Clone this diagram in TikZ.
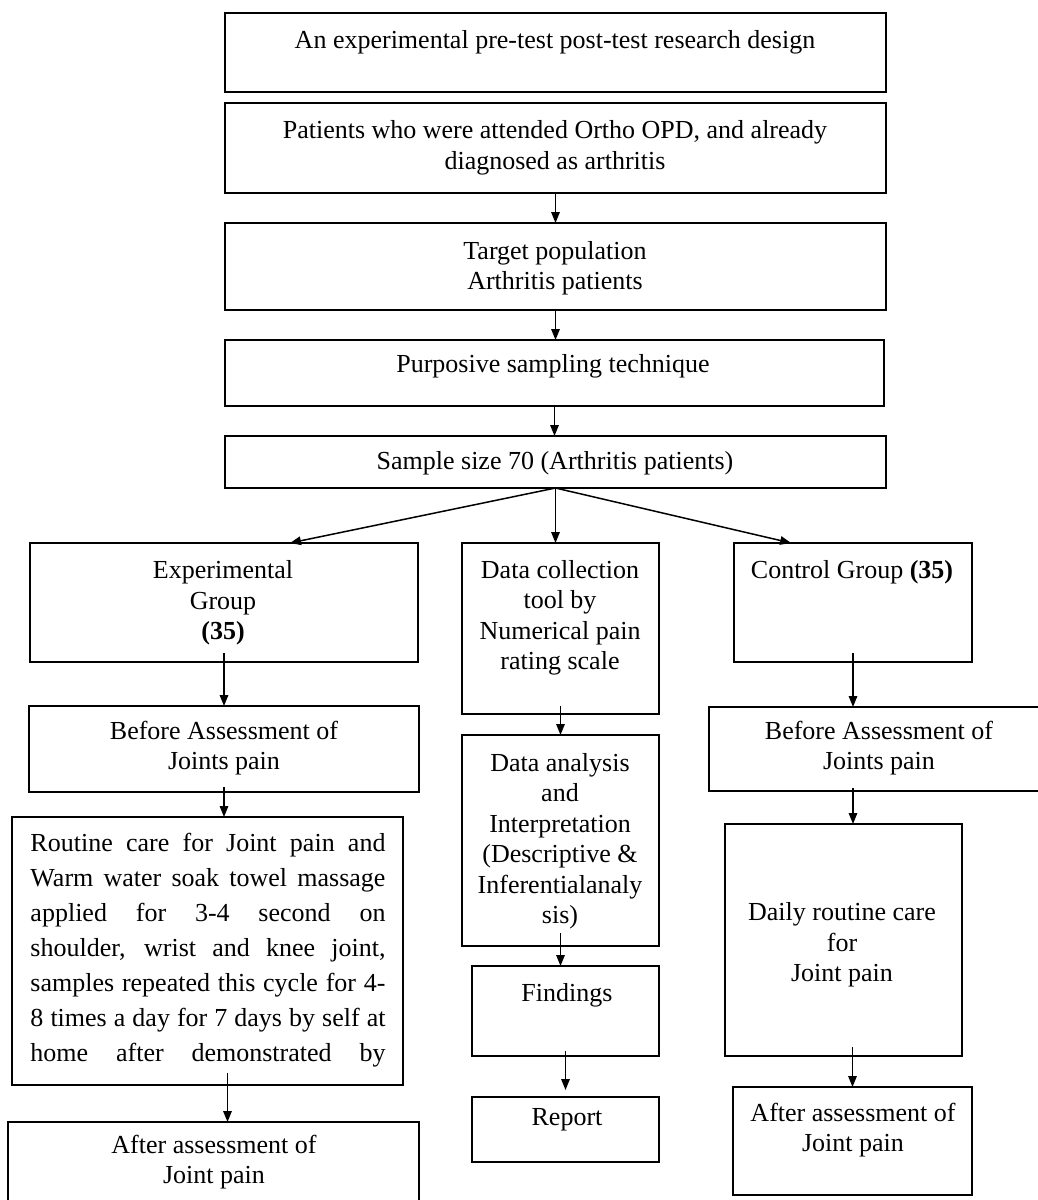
\documentclass[tikz,border=0pt]{standalone}
\usepackage{fontspec}
\setmainfont{Liberation Serif}
\usetikzlibrary{arrows.meta,calc}
\tikzset{
 box/.style={draw=black, line width=1.4pt, rectangle, inner sep=0pt, outer sep=0pt},
 txt/.style={align=center, inner sep=0pt, font=\fontsize{26}{30.5}\selectfont},
 arr/.style={draw=black, line width=1.5pt, -{Triangle[length=11pt,width=8.5pt]}},
}
\newcommand{\bx}[5]{\node[box, minimum width={(#4)-(#2)}, minimum height={(#5)-(#3)}] (#1) at ({((#2)+(#4))/2},{((#3)+(#5))/2}) {};}
\begin{document}
\begin{tikzpicture}[x=1pt,y=-1pt]
\useasboundingbox (0,0) rectangle (1038,1200);
% boxes
\bx{b1}{225}{13}{886}{92}
\bx{b2}{225}{103}{886}{193}
\bx{b3}{225}{223}{886}{310}
\bx{b4}{225}{340}{884}{406}
\bx{b5}{225}{436}{886}{488}
\bx{exp}{30}{543}{418}{662}
\bx{data}{462}{543}{659}{714}
\bx{ctrl}{734}{543}{972}{662}
\bx{bal}{29}{706}{419}{792}
\bx{rout}{12}{817}{403}{1085}
\bx{aal}{8}{1122}{419}{1215}
\bx{dana}{462}{735}{659}{946}
\bx{find}{472}{966}{659}{1056}
\bx{rep}{472}{1097}{659}{1162}
\bx{bar}{709}{707}{1050}{791}
\bx{daily}{725}{824}{962}{1056}
\bx{aar}{733}{1087}{972}{1195}
% texts
\node[txt] (t1) at (555,42) {An experimental pre-test post-test research design};
\node[txt] (t2) at (555,148) {Patients who were attended Ortho OPD, and already\\diagnosed as arthritis};
\node[txt] (t3) at (555,268) {Target population\\Arthritis patients};
\node[txt] (t4) at (553,366) {Purposive sampling technique};
\node[txt] (t5) at (555,463) {Sample size 70 (Arthritis patients)};
\node[txt] (t6) at (223,603) {Experimental\\Group\\\textbf{(35)}};
\node[txt] (t7) at (560,618) {Data collection\\tool by\\Numerical pain\\rating scale};
\node[txt] (t8) at (852,572) {Control Group \textbf{(35)}};
\node[txt] (t9) at (224,748) {Before Assessment of\\Joints pain};
\node[txt, align=left, font=\fontsize{26}{35}\selectfont] (t10) at (208,950) {%
\makebox[355pt][s]{Routine care for Joint pain and}\\
\makebox[355pt][s]{Warm water soak towel massage}\\
\makebox[355pt][s]{applied for 3-4 second on}\\
\makebox[355pt][s]{shoulder, wrist and knee joint,}\\
\makebox[355pt][s]{samples repeated this cycle for 4-}\\
\makebox[355pt][s]{8 times a day for 7 days by self at}\\
\makebox[355pt][s]{home after demonstrated by}};
\node[txt] (t11) at (214,1162) {After assessment of\\Joint pain};
\node[txt] (t12) at (560,841) {Data analysis\\and\\Interpretation\\(Descriptive \&\\Inferentialanaly\\sis)};
\node[txt] (t13) at (567,995) {Findings};
\node[txt] (t14) at (567,1120) {Report};
\node[txt] (t15) at (879,748) {Before Assessment of\\Joints pain};
\node[txt] (t16) at (842,945) {Daily routine care\\for\\Joint pain};
\node[txt] (t17) at (853,1130) {After assessment of\\Joint pain};
% arrows
\coordinate (rs) at ($(rout.south)+(20,0)$);
\draw[arr] (b2.south) -- (b2.south |- b3.north);
\draw[arr] (b3.south) -- (b3.south |- b4.north);
\draw[arr] (b4.south) -- (b4.south |- b5.north);
\draw[arr] (b5.south) -- ($(exp.north west)!0.67!(exp.north east)$);
\draw[arr] (b5.south) -- (b5.south |- data.north);
\draw[arr] (b5.south) -- ($(ctrl.north west)!0.24!(ctrl.north east)$);
\draw[arr, shorten <=-9pt] (exp.south) -- (exp.south |- bal.north);
\draw[arr, shorten <=-5pt] (bal.south) -- (bal.south |- rout.north);
\draw[arr, shorten <=-12pt] (rs) -- (rs |- aal.north);
\draw[arr, shorten <=-8pt] (data.south) -- (data.south |- dana.north);
\draw[arr, shorten <=-13pt] (dana.south) -- (dana.south |- find.north);
\draw[arr, shorten <=-5pt, shorten >=7pt] (find.south) -- (find.south |- rep.north);
\draw[arr, shorten <=-9pt] (ctrl.south) -- (ctrl.south |- bar.north);
\draw[arr, shorten <=-3pt] (ctrl.south |- bar.south) -- (ctrl.south |- daily.north);
\draw[arr, shorten <=-9pt] (aar.north |- daily.south) -- (aar.north);
\end{tikzpicture}
\end{document}
